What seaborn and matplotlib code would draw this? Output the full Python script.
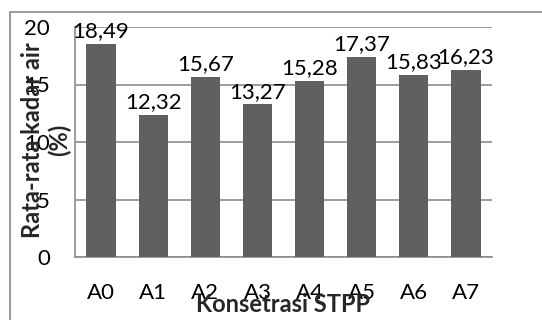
import matplotlib
matplotlib.use("Agg")
import matplotlib.pyplot as plt
import matplotlib.patches as mpatches
import seaborn as sns
import pandas as pd

categories = ["A0", "A1", "A2", "A3", "A4", "A5", "A6", "A7"]
values = [18.49, 12.32, 15.67, 13.27, 15.28, 17.37, 15.83, 16.23]
value_labels = ["18,49", "12,32", "15,67", "13,27", "15,28", "17,37", "15,83", "16,23"]
y_ticks = [0, 5, 10, 15, 20]

sns.set_theme(style="white")
plt.rcParams["font.family"] = ["Lato", "DejaVu Sans"]

df = pd.DataFrame({"perlakuan": categories, "kadar_air": values})

W, H = 542, 320
fig = plt.figure(figsize=(W / 100, H / 100), dpi=100)
fig.patch.set_facecolor("white")

# chart frame
frame = mpatches.Rectangle((9.5 / W, -0.2), 1.0, 1.2 - 11.5 / H,
                           transform=fig.transFigure, fill=False,
                           edgecolor="#8a8a8a", linewidth=1.2, zorder=0)
fig.patches.append(frame)

ax = fig.add_axes([75 / W, 1 - 257 / H, 417 / W, 230 / H])
sns.barplot(data=df, x="perlakuan", y="kadar_air", color="#606060",
            saturation=1, width=0.56, ax=ax, zorder=3)
for p in ax.patches:
    p.set_edgecolor("none")

ax.set_ylim(0, 20)
ax.set_yticks(y_ticks)
ax.set_yticklabels([str(t) for t in y_ticks])
ax.yaxis.grid(True, color="#8c8c8c", linewidth=1.2, zorder=0)
ax.set_axisbelow(True)
for side in ["top", "right"]:
    ax.spines[side].set_visible(False)
for side in ["left", "bottom"]:
    ax.spines[side].set_color("#8c8c8c")
    ax.spines[side].set_linewidth(1.2)

ax.tick_params(axis="y", length=0, pad=18, labelsize=16, labelcolor="black")
ax.tick_params(axis="x", length=0, pad=19, labelsize=16, labelcolor="black")
ax.set_xlabel("")
ax.set_ylabel("")

ax.bar_label(ax.containers[0], labels=value_labels, padding=2, fontsize=16,
             color="black")

fig.text(46 / W, 1 - 140 / H, "Rata-rata kadar air\n(%)", rotation=90,
         ha="center", va="center", fontsize=17, fontweight="bold",
         linespacing=1.15)
fig.text(283 / W, 1 - 305 / H, "Konsetrasi STPP", ha="center", va="center",
         fontsize=17, fontweight="bold")

fig.savefig("out.png", dpi=100)
